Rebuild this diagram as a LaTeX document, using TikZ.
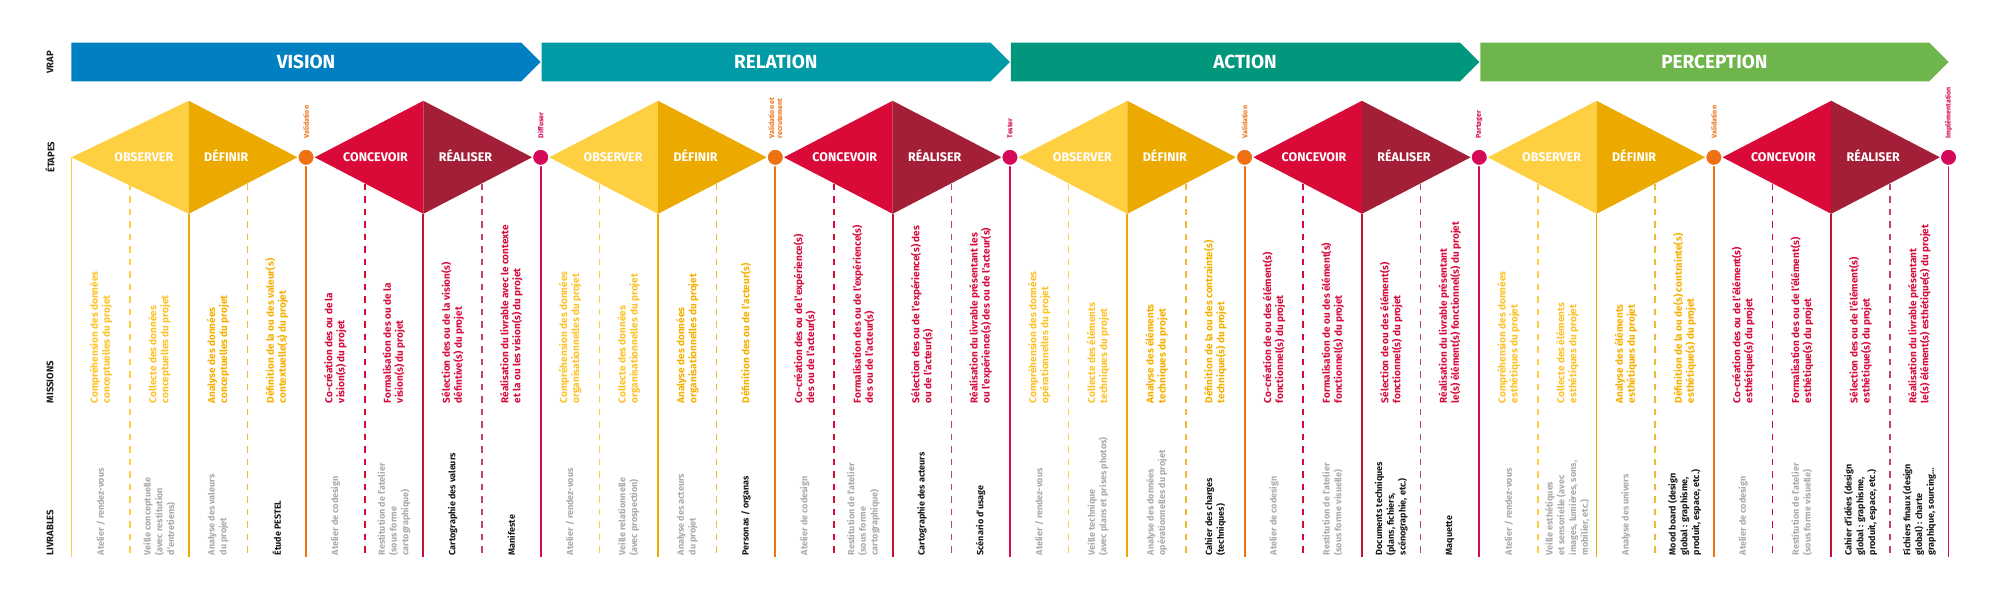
\documentclass[tikz,border=0pt]{standalone}
\usepackage{fontspec}
\setmainfont{Fira Sans}
\definecolor{cVision}{RGB}{0,128,195}
\definecolor{cRelation}{RGB}{0,155,167}
\definecolor{cAction}{RGB}{0,151,125}
\definecolor{cPerception}{RGB}{110,182,75}
\definecolor{cObs}{RGB}{253,207,65}
\definecolor{cDef}{RGB}{236,170,0}
\definecolor{cCon}{RGB}{218,10,56}
\definecolor{cRea}{RGB}{163,31,55}
\definecolor{cVal}{RGB}{238,114,20}
\definecolor{cMag}{RGB}{214,8,90}
\definecolor{cCrim}{RGB}{196,18,52}
\definecolor{cReaDash}{RGB}{190,70,100}
\definecolor{cGray}{RGB}{170,170,170}
\definecolor{cBlack}{RGB}{26,26,26}
\definecolor{tObs}{RGB}{253,195,40}
\definecolor{tDef}{RGB}{246,176,0}
\definecolor{tRed}{RGB}{216,12,60}
\newcommand\mycol[1]{(71.4+58.66*(#1))}
\newcommand\mymis[3]{%
  \pgfmathsetmacro\myx{71.4+58.66*#1+29.33}%
  \node[mistext, text=#2] (m#1) at (\myx,403.3) {#3};}
\newcommand\myliv[3]{%
  \pgfmathsetmacro\myx{71.4+58.66*#1+29.33}%
  \node[#2] (l#1) at (\myx,555.5) {#3};}
\begin{document}
\begin{tikzpicture}[x=1pt,y=-1pt,
  mistext/.style={rotate=90, anchor=west, align=left, inner sep=0pt, font=\bfseries\fontsize{10}{12}\selectfont},
  livg/.style={rotate=90, anchor=west, align=left, inner sep=0pt, text=cGray, font=\bfseries\fontsize{9}{11.7}\selectfont},
  livb/.style={rotate=90, anchor=west, align=left, inner sep=0pt, text=cBlack, font=\bfseries\fontsize{9}{11.7}\selectfont},
  rowlab/.style={rotate=90, inner sep=0pt, text=cBlack, font=\bfseries\fontsize{9.5}{11}\selectfont},
  arrlab/.style={anchor=base, inner sep=0pt, text=white, font=\bfseries\fontsize{19}{22}\selectfont},
  dlab/.style={inner sep=0pt, text=white, font=\bfseries\fontsize{12.5}{14}\selectfont},
  clab/.style={rotate=90, anchor=west, align=left, inner sep=0pt, font=\bfseries\fontsize{7}{8}\selectfont},
  dot/.style={circle, minimum size=16.6pt, inner sep=0pt, draw=white, line width=1.4pt},
  lineobs/.style={draw=cObs, line width=1.6pt},
  linemag/.style={draw=cMag, line width=1.8pt},
  linedef/.style={draw=cDef, line width=1.8pt},
  lineval/.style={draw=cVal, line width=1.8pt},
  linecr/.style={draw=cCrim, line width=1.8pt},
  dashobs/.style={draw=cObs, line width=1.6pt, dash pattern=on 6.5pt off 6pt},
  dashdef/.style={draw=cDef!80!white, line width=1.6pt, dash pattern=on 6.5pt off 6pt},
  dashcon/.style={draw=cCon, line width=1.6pt, dash pattern=on 6.5pt off 6pt},
  dashrea/.style={draw=cReaDash, line width=1.6pt, dash pattern=on 6.5pt off 6pt}]
\useasboundingbox (0,0) rectangle (2000,600);
\fill[white] (0,0) rectangle (2000,600);

% row labels
\node[rowlab] (rVrap) at (50,62.3) {VRAP};
\node[rowlab] (rEtapes) at (50,157.3) {ÉTAPES};
\node[rowlab, anchor=west] (rMissions) at (50,403.3) {MISSIONS};
\node[rowlab, anchor=west] (rLivrables) at (50,555.5) {LIVRABLES};

% VRAP arrows
\foreach \p/\c/\t in {0/cVision/VISION,1/cRelation/RELATION,2/cAction/ACTION,3/cPerception/PERCEPTION}{
  \pgfmathsetmacro\xs{ifthenelse(\p==0,71.4,71.4+58.66*8*\p+1)}
  \pgfmathsetmacro\xt{71.4+58.66*8*(\p+1)}
  \pgfmathsetmacro\xb{\xt-19.3}
  \pgfmathsetmacro\xm{(\xs+\xt)/2}
  \fill[\c] (\xs,42.7) -- (\xb,42.7) -- (\xt,62) -- (\xb,81.3) -- (\xs,81.3) -- cycle;
  \node[arrlab] (a\p) at (\xm,68.6) {\t};
}

% vertical lines
\foreach \k in {0,...,32}{
  \pgfmathtruncatemacro\m{mod(\k,8)}
  \pgfmathsetmacro\xk{\mycol{\k}}
  \ifcase\m
    \ifnum\k=0 \def\ty{157.3}\def\st{lineobs}\else\def\ty{157.3}\def\st{linemag}\fi
  \or \def\ty{183.7}\def\st{dashobs}
  \or \def\ty{213.8}\def\st{linedef}
  \or \def\ty{183.7}\def\st{dashdef}
  \or \def\ty{157.3}\def\st{lineval}
  \or \def\ty{183.7}\def\st{dashcon}
  \or \def\ty{213.8}\def\st{linecr}
  \or \def\ty{183.7}\def\st{dashrea}
  \fi
  \coordinate (t\k) at (\xk,\ty);
  \coordinate (b\k) at (\xk,556.7);
  \draw[\st] (t\k) -- (b\k);
}

% diamonds
\foreach \p in {0,...,3}{
  \pgfmathsetmacro\ca{\mycol{8*\p+2}}
  \pgfmathsetmacro\cb{\mycol{8*\p+6}}
  \pgfmathsetmacro\la{ifthenelse(\p==0,71.4,\ca-108.7)}
  \pgfmathsetmacro\ra{\ca+108.7}
  \pgfmathsetmacro\lb{\cb-108.7}
  \pgfmathsetmacro\rb{\cb+108.7}
  \fill[cObs] (\la,157.3) -- (\ca,100.8) -- (\ca,213.8) -- cycle;
  \fill[cDef] (\ca,100.8) -- (\ra,157.3) -- (\ca,213.8) -- cycle;
  \fill[cCon] (\lb,157.3) -- (\cb,100.8) -- (\cb,213.8) -- cycle;
  \fill[cRea] (\cb,100.8) -- (\rb,157.3) -- (\cb,213.8) -- cycle;
  \pgfmathsetmacro\pa{\ca-15.3}
  \pgfmathsetmacro\qa{\ca+15.3}
  \pgfmathsetmacro\pb{\cb-15.3}
  \pgfmathsetmacro\qb{\cb+15.3}
  \node[dlab, anchor=base east] (obs\p) at (\pa,161.6) {OBSERVER};
  \node[dlab, anchor=base west] (def\p) at (\qa,161.6) {DÉFINIR};
  \node[dlab, anchor=base east] (con\p) at (\pb,161.6) {CONCEVOIR};
  \node[dlab, anchor=base west] (rea\p) at (\qb,161.6) {RÉALISER};
}

% milestone dots and labels
\foreach \k/\c/\t in {4/cVal/Validation,8/cMag/Diffuser,12/cVal/{Validation et\\recrutement},16/cMag/Tester,20/cVal/Validation,24/cMag/Partager,28/cVal/Validation,32/cMag/Implémentation}{
  \pgfmathsetmacro\xk{\mycol{\k}}
  \node[dot, fill=\c] (d\k) at (\xk,157.3) {};
  \node[clab, text=\c] (dl\k) at (\xk,138.5) {\t};
}

% missions
\mymis{0}{tObs}{Compréhension des données\\conceptuelles du projet}
\mymis{1}{tObs}{Collecte des données\\conceptuelles du projet}
\mymis{2}{tDef}{Analyse des données\\conceptuelles du projet}
\mymis{3}{tDef}{Définition de la ou des valeur(s)\\contextuelle(s) du projet}
\mymis{4}{tRed}{Co-création des ou de la\\vision(s) du projet}
\mymis{5}{tRed}{Formalisation des ou de la\\vision(s) du projet}
\mymis{6}{tRed}{Sélection des ou de la vision(s)\\défintive(s) du projet}
\mymis{7}{tRed}{Réalisation du livrable avec le contexte\\et la ou les vision(s) du projet}
\mymis{8}{tObs}{Compréhension des données\\organisationnelles du projet}
\mymis{9}{tObs}{Collecte des données\\organisationnelles du projet}
\mymis{10}{tDef}{Analyse des données\\organisationnelles du projet}
\mymis{11}{tDef}{Définition des ou de l’acteur(s)}
\mymis{12}{tRed}{Co-création des ou de l’expérience(s)\\des ou de l’acteur(s)}
\mymis{13}{tRed}{Formalisation des ou de l’expérience(s)\\des ou de l’acteur(s)}
\mymis{14}{tRed}{Sélection des ou de l’expérience(s) des\\ou de l’acteur(s)}
\mymis{15}{tRed}{Réalisation du livrable présentant les\\ou l’expérience(s) des ou de l’acteur(s)}
\mymis{16}{tObs}{Compréhension des données\\opérationnelles du projet}
\mymis{17}{tObs}{Collecte des éléments\\techniques du projet}
\mymis{18}{tDef}{Analyse des éléments\\techniques du projet}
\mymis{19}{tDef}{Définition de la ou des contrainte(s)\\technique(s) du projet}
\mymis{20}{tRed}{Co-création de ou des élément(s)\\fonctionnel(s) du projet}
\mymis{21}{tRed}{Formalisation de ou des élément(s)\\fonctionnel(s) du projet}
\mymis{22}{tRed}{Sélection de ou des élément(s)\\fonctionnel(s) du projet}
\mymis{23}{tRed}{Réalisation du livrable présentant\\le(s) élément(s) fonctionnel(s) du projet}
\mymis{24}{tObs}{Compréhension des données\\esthétiques du projet}
\mymis{25}{tObs}{Collecte des éléments\\esthétiques du projet}
\mymis{26}{tDef}{Analyse des éléments\\esthétiques du projet}
\mymis{27}{tDef}{Définition de la ou de(s) contrainte(s)\\esthétique(s) du projet}
\mymis{28}{tRed}{Co-création des ou de l’élément(s)\\esthétique(s) du projet}
\mymis{29}{tRed}{Formalisation des ou de l’élément(s)\\esthétique(s) du projet}
\mymis{30}{tRed}{Sélection des ou de l’élément(s)\\esthétique(s) du projet}
\mymis{31}{tRed}{Réalisation du livrable présentant\\le(s) élément(s) esthétique(s) du projet}

% livrables
\myliv{0}{livg}{Atelier / rendez-vous}
\myliv{1}{livg}{Veille conceptuelle\\(avec restitution\\d’entretiens)}
\myliv{2}{livg}{Analyse des valeurs\\du projet}
\myliv{3}{livb}{Étude PESTEL}
\myliv{4}{livg}{Atelier de codesign}
\myliv{5}{livg}{Restitution de l’atelier\\(sous forme\\cartographique)}
\myliv{6}{livb}{Cartographie des valeurs}
\myliv{7}{livb}{Manifeste}
\myliv{8}{livg}{Atelier / rendez-vous}
\myliv{9}{livg}{Veille relationnelle\\(avec prospection)}
\myliv{10}{livg}{Analyse des acteurs\\du projet}
\myliv{11}{livb}{Personas / organas}
\myliv{12}{livg}{Atelier de codesign}
\myliv{13}{livg}{Restitution de l’atelier\\(sous forme\\cartographique)}
\myliv{14}{livb}{Cartographie des acteurs}
\myliv{15}{livb}{Scénario d’usage}
\myliv{16}{livg}{Atelier / rendez-vous}
\myliv{17}{livg}{Veille technique\\(avec plans et prises photos)}
\myliv{18}{livg}{Analyse des données\\opérationnelles du projet}
\myliv{19}{livb}{Cahier des charges\\(techniques)}
\myliv{20}{livg}{Atelier de codesign}
\myliv{21}{livg}{Restitution de l’atelier\\(sous forme visuelle)}
\myliv{22}{livb}{Documents techniques\\(plans, fichiers,\\scénographie, etc.)}
\myliv{23}{livb}{Maquette}
\myliv{24}{livg}{Atelier / rendez-vous}
\myliv{25}{livg}{Veille esthétiques\\et sensorielle (avec\\images, lumières, sons,\\mobilier, etc.)}
\myliv{26}{livg}{Analyse des univers}
\myliv{27}{livb}{Mood board (design\\global : graphisme,\\produit, espace, etc.)}
\myliv{28}{livg}{Atelier de codesign}
\myliv{29}{livg}{Restitution de l’atelier\\(sous forme visuelle)}
\myliv{30}{livb}{Cahier d’idées (design\\global : graphisme,\\produit, espace, etc.)}
\myliv{31}{livb}{Fichiers finaux (design\\global) : charte\\graphique, sourcing…}
\end{tikzpicture}
\end{document}
